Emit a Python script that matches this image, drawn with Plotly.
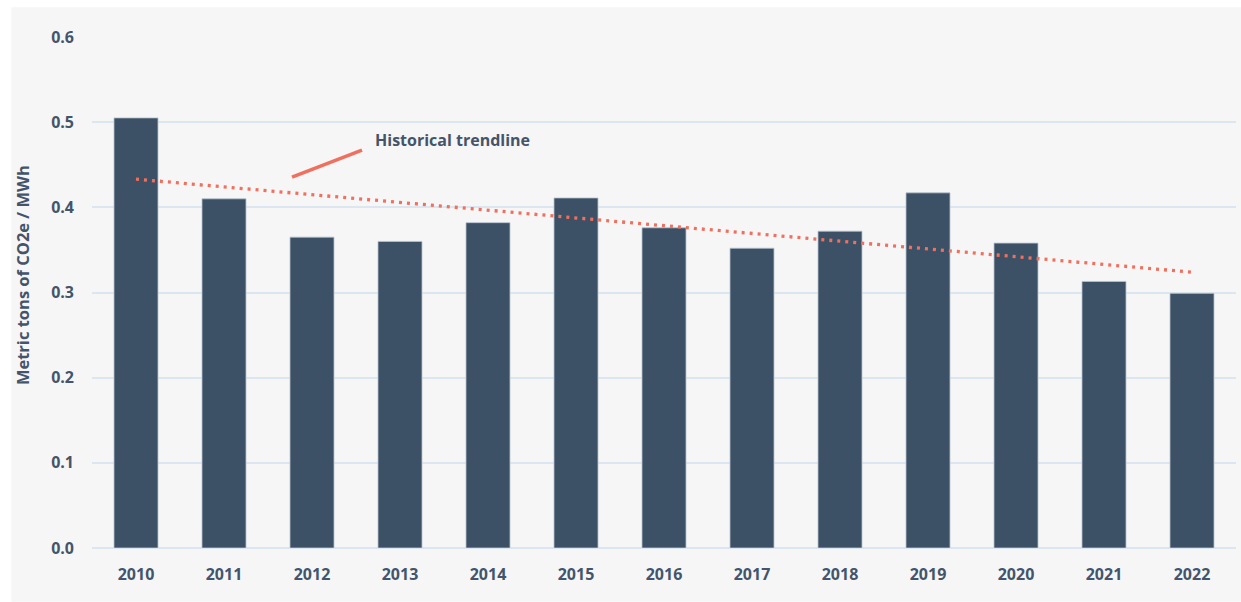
import numpy as np
import plotly.graph_objects as go

years = ["2010", "2011", "2012", "2013", "2014", "2015", "2016",
         "2017", "2018", "2019", "2020", "2021", "2022"]
intensity = [0.505, 0.410, 0.365, 0.360, 0.382, 0.411, 0.376,
             0.352, 0.372, 0.417, 0.358, 0.313, 0.299]
y_ticks = [0.0, 0.1, 0.2, 0.3, 0.4, 0.5, 0.6]

BAR = "#3D5166"
TEXT = "#44546A"
TREND = "#F0705F"
GRID = "#DCE6F0"
PANEL = "#F6F6F6"
FONT = "Open Sans"

# least-squares trend across the years
idx = np.arange(len(years))
slope, intercept = np.polyfit(idx, intensity, 1)
trend = slope * idx + intercept

fig = go.Figure()
fig.add_trace(go.Bar(
    x=idx, y=intensity, width=0.5,
    marker=dict(color=BAR, line=dict(color="#B8C4D0", width=0.8)),
    hoverinfo="x+y", showlegend=False,
))
fig.add_trace(go.Scatter(
    x=idx, y=trend, mode="lines",
    line=dict(color=TREND, width=3.3, dash="3px,5px"),
    showlegend=False,
))

# panel background
fig.add_shape(type="rect", xref="paper", yref="paper",
              x0=-0.0705, x1=1.005, y0=-0.105, y1=1.058,
              fillcolor=PANEL, line_width=0, layer="below")

# callout pointer and label
fig.add_shape(type="line", xref="x", yref="y",
              x0=1.773, y0=0.4356, x1=2.568, y1=0.4673,
              line=dict(color=TREND, width=3.5))
fig.add_annotation(x=2.69, y=0.479, xref="x", yref="y",
                   text="<b>Historical trendline</b>", showarrow=False,
                   xanchor="left", yanchor="middle",
                   font=dict(family=FONT, size=16, color=TEXT))

# vertical axis title
fig.add_annotation(x=-0.0612, y=0.534, xref="paper", yref="paper",
                   text="<b>Metric tons of CO2e / MWh</b>", showarrow=False,
                   textangle=-90, xanchor="center", yanchor="middle",
                   font=dict(family=FONT, size=16.5, color=TEXT))

fig.update_layout(
    width=1241, height=602,
    margin=dict(l=92, r=5, t=37, b=54),
    paper_bgcolor="white", plot_bgcolor=PANEL,
    font=dict(family=FONT, color=TEXT),
    xaxis=dict(
        tickmode="array", tickvals=idx, ticktext=[f"<b>{y}</b>" for y in years],
        range=[-0.5, len(years) - 0.5],
        showgrid=False, zeroline=False, showline=False,
        ticks="", ticklabelstandoff=15,
        tickfont=dict(family=FONT, size=16, color=TEXT),
    ),
    yaxis=dict(
        range=[0, 0.6], tickvals=y_ticks,
        ticktext=[f"<b>{v:.1f}</b>" for v in y_ticks],
        showgrid=True, gridcolor=GRID, gridwidth=1.5,
        zeroline=True, zerolinecolor=GRID, zerolinewidth=1.5,
        showline=False, ticks="", ticklabelstandoff=17,
        tickfont=dict(family=FONT, size=16, color=TEXT),
    ),
)

fig.write_html("out.html")
